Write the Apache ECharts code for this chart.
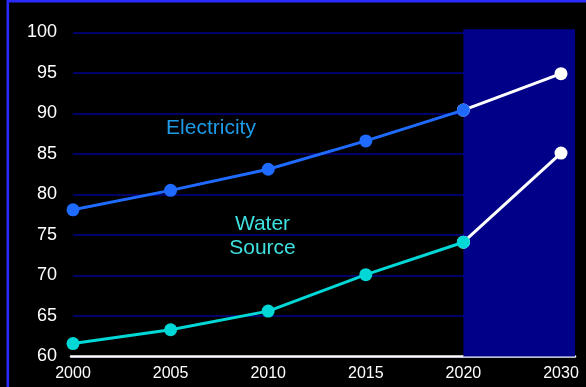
<!DOCTYPE html>
<html>
<head>
<meta charset="utf-8">
<style>
  html, body { margin: 0; padding: 0; background: #000; }
  #chart { width: 586px; height: 387px; }
</style>
<script src="https://cdn.jsdelivr.net/npm/echarts@6/dist/echarts.min.js"></script>
</head>
<body>
<div id="chart"></div>
<script>
// Survey years (2030 is the projected value)
const years = ['2000', '2005', '2010', '2015', '2020', '2030'];
// Access rates, %
const electricity = [78.1, 80.5, 83.1, 86.6, 90.4, 94.9];
const waterSource = [61.6, 63.3, 65.6, 70.1, 74.1, 85.1];
// Y-axis range and step
const yMin = 60, yMax = 100, yStep = 5;
const projectionFrom = '2020';

const FONT = '"Liberation Sans", Arial, sans-serif';
const ELEC = '#1f6bff';
const WATER = '#00d8d8';

// observed part: values up to the projection start, blank afterwards
const split = years.indexOf(projectionFrom);
const observed = arr => arr.map((v, i) => (i <= split ? v : null));
const projected = arr => arr.map((v, i) => (i >= split ? v : null));

function lineSeries(name, data, color, z) {
  return {
    name, type: 'line', data, z,
    xAxisIndex: 0, yAxisIndex: 0,
    symbol: 'circle', symbolSize: 13,
    lineStyle: { color, width: 3 },
    itemStyle: { color },
    connectNulls: false,
    animation: false
  };
}
function projSeries(name, data, z) {
  return {
    name, type: 'line', data, z,
    xAxisIndex: 0, yAxisIndex: 0,
    symbol: 'circle', symbolSize: 13,
    showSymbol: true,
    lineStyle: { color: '#ffffff', width: 3 },
    itemStyle: { color: '#ffffff' },
    animation: false
  };
}

const chart = echarts.init(document.getElementById('chart'));
chart.setOption({
  backgroundColor: '#000000',
  animation: false,
  grid: [
    { left: 73, right: 25, top: 32.3, bottom: 30.5 },
    { left: 71, right: 11, top: 32.3, bottom: 30.5 }
  ],
  xAxis: [
    {
      type: 'category', gridIndex: 0, data: years, boundaryGap: false,
      axisLine: { show: false }, axisTick: { show: false },
      splitLine: { show: false },
      axisLabel: { color: '#ffffff', fontSize: 16, fontFamily: FONT, margin: 9 }
    },
    {
      type: 'value', gridIndex: 1, min: 0, max: 1,
      axisLine: { show: true, lineStyle: { color: '#ffffff', width: 2.5 } },
      axisTick: { show: false }, axisLabel: { show: false },
      splitLine: { show: false }
    }
  ],
  yAxis: [
    {
      type: 'value', gridIndex: 0, min: yMin, max: yMax, interval: yStep,
      axisLine: { show: false }, axisTick: { show: false },
      axisLabel: { color: '#ffffff', fontSize: 18, fontFamily: FONT, margin: 16 },
      splitLine: { show: true, lineStyle: { color: '#00008e', width: 1.7 } }
    },
    { type: 'value', gridIndex: 1, min: 0, max: 1, show: false }
  ],
  series: [
    projSeries('Electricity (projection)', projected(electricity), 3),
    projSeries('Water Source (projection)', projected(waterSource), 3),
    lineSeries('Electricity', observed(electricity), ELEC, 4),
    lineSeries('Water Source', observed(waterSource), WATER, 4)
  ]
});

// projection panel, slide frame and series captions
const xStart = chart.convertToPixel({ xAxisIndex: 0 }, projectionFrom);
const xEnd = chart.convertToPixel({ xAxisIndex: 1 }, 1);
const yTop = chart.convertToPixel({ yAxisIndex: 0 }, yMax);
const yBot = chart.convertToPixel({ yAxisIndex: 0 }, yMin);

chart.setOption({
  graphic: [
    {
      type: 'rect', z: 1, silent: true,
      shape: { x: xStart, y: yTop - 3, width: xEnd - xStart, height: yBot - yTop + 3 },
      style: { fill: '#000088' }
    },
    {
      type: 'rect', z: 20, silent: true,
      shape: { x: 7.8, y: 1.2, width: 700, height: 500 },
      style: { fill: null, stroke: '#2a2aff', lineWidth: 2.6 }
    },
    {
      type: 'text', z: 20, silent: true, x: 211, y: 128,
      style: {
        text: 'Electricity', fill: '#1e9be8', fontSize: 21, fontFamily: FONT,
        align: 'center', verticalAlign: 'middle'
      }
    },
    {
      type: 'text', z: 20, silent: true, x: 262.5, y: 236,
      style: {
        text: 'Water\nSource', fill: '#3fe0e0', fontSize: 21, fontFamily: FONT,
        lineHeight: 24, align: 'center', verticalAlign: 'middle'
      }
    }
  ]
});
</script>
</body>
</html>
